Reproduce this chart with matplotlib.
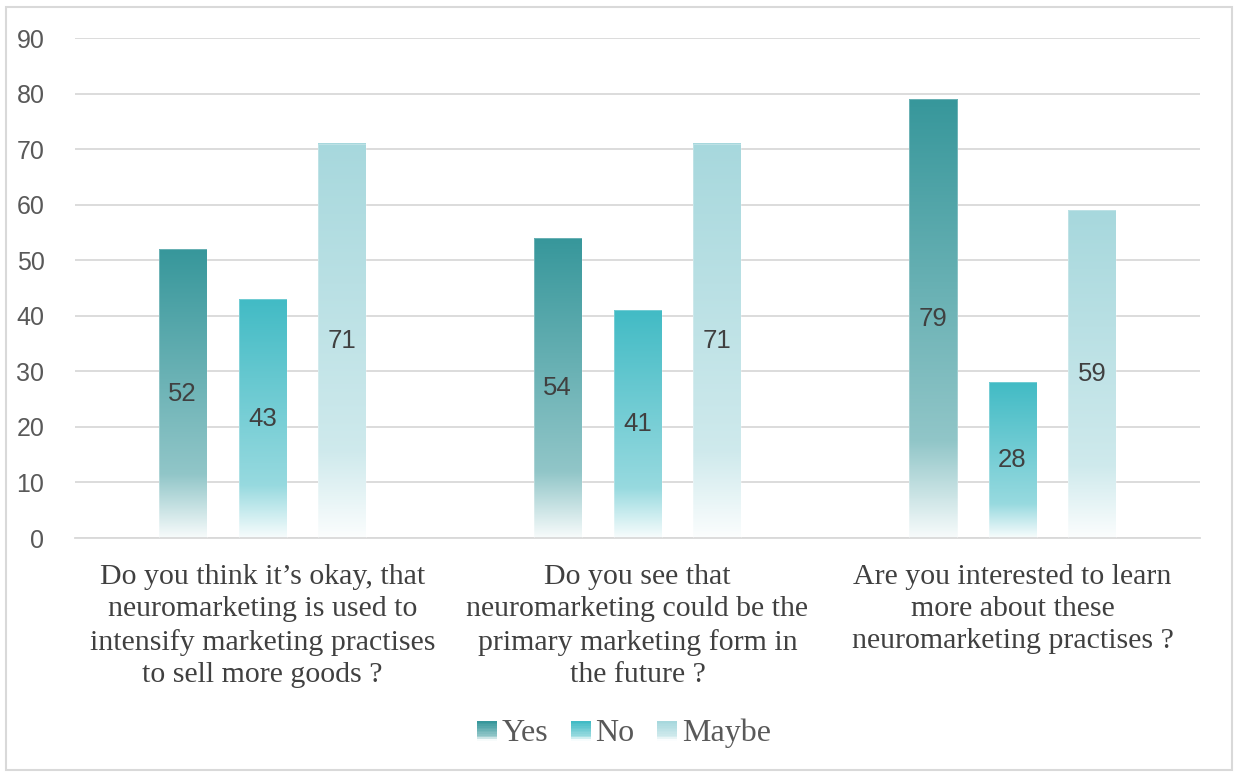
import matplotlib
matplotlib.use("Agg")
import matplotlib.pyplot as plt
import numpy as np
from matplotlib.patches import Rectangle
from matplotlib.legend_handler import HandlerBase
from matplotlib.colors import to_rgb

# Dados da pesquisa
perguntas = [
    "Do you think it\u2019s okay, that\nneuromarketing is used to\nintensify marketing practises\nto sell more goods ?",
    "Do you see that\nneuromarketing could be the\nprimary marketing form in\nthe future ?",
    "Are you interested to learn\nmore about these\nneuromarketing practises ?",
]
respostas = ["Yes", "No", "Maybe"]
sim = [52, 54, 79]
nao = [43, 41, 28]
talvez = [71, 71, 59]
cores = ["#37979b", "#42bbc5", "#a7d8dd"]


# Gradiente: cor cheia no topo, clareando ate quase branco na base
def gradiente(cor, n=256):
    c = np.array(to_rgb(cor))
    branco = np.ones(3)
    t = np.linspace(0, 1, n)  # 0 = base, 1 = topo
    meio = c * 0.55 + branco * 0.45
    fundo = c * 0.04 + branco * 0.96
    joelho = 0.22
    out = np.zeros((n, 3))
    for i, v in enumerate(t):
        if v < joelho:
            f = v / joelho
            out[i] = fundo * (1 - f) + meio * f
        else:
            f = (v - joelho) / (1 - joelho)
            out[i] = meio * (1 - f) + c * f
    return out[::-1].reshape(n, 1, 3)


class HandlerGradiente(HandlerBase):
    def __init__(self, cor):
        super().__init__()
        self.cor = cor

    def create_artists(self, legend, orig_handle, xdescent, ydescent,
                       width, height, fontsize, trans):
        img = gradiente(self.cor, 12)[:, 0, :]
        lado = width
        x0 = -xdescent
        y0 = -ydescent
        arts = []
        for k in range(12):
            r = Rectangle((x0, y0 + lado * (11 - k) / 12), lado, lado / 12,
                          facecolor=img[k], edgecolor="none", transform=trans)
            arts.append(r)
        return arts


fig = plt.figure(figsize=(12.34, 7.74), dpi=100)
ax = fig.add_axes([75 / 1234, 236 / 774, 1125 / 1234, 500 / 774])

# Moldura da figura
fig.patches.append(Rectangle((6 / 1234, 4 / 774), 1226 / 1234, 763 / 774,
                             transform=fig.transFigure, fill=False,
                             edgecolor="#d9d9d9", linewidth=1.5))

x = np.arange(len(perguntas))
largura = 0.128
passo = 0.2133
series = [sim, nao, talvez]

for j, (vals, cor) in enumerate(zip(series, cores)):
    grad = gradiente(cor)
    for i, v in enumerate(vals):
        xc = x[i] + (j - 1) * passo
        ax.imshow(grad, extent=(xc - largura / 2, xc + largura / 2, 0, v),
                  aspect="auto", interpolation="bilinear", zorder=2)
        ax.add_patch(Rectangle((xc - largura / 2, 0), largura, v, fill=False,
                               edgecolor=(1, 1, 1, 0.3), linewidth=0.6, zorder=3))
        ax.text(xc, v / 2, str(v), ha="center", va="center", fontsize=18.5,
                color="#404040", family="Liberation Sans", zorder=4)

ax.set_xlim(-0.5, 2.5)
ax.set_ylim(0, 90)
ax.set_yticks(range(0, 91, 10))
ax.set_xticks(x)
ax.set_xticklabels(perguntas, family="Liberation Serif", fontsize=21.5,
                   color="#404040", linespacing=1.3)
ax.tick_params(axis="x", length=0, pad=19)
ax.tick_params(axis="y", length=0, pad=22, labelsize=18, labelcolor="#595959")
for lbl in ax.get_yticklabels():
    lbl.set_family("Liberation Sans")

ax.grid(axis="y", color="#d9d9d9", linewidth=1.3, zorder=0)
ax.set_axisbelow(True)
for s in ["top", "right", "left"]:
    ax.spines[s].set_visible(False)
ax.spines["bottom"].set_color("#d9d9d9")
ax.spines["bottom"].set_linewidth(1.3)

# Legenda com quadrados em gradiente
handles = [Rectangle((0, 0), 1, 1) for _ in respostas]
leg = fig.legend(handles, respostas, loc="center", bbox_to_anchor=(624 / 1234, 1 - 733 / 774),
                 ncol=3, frameon=False, handlelength=0.62, handletextpad=0.15,
                 columnspacing=0.7, handler_map={h: HandlerGradiente(c) for h, c in zip(handles, cores)},
                 prop={"family": "Liberation Serif", "size": 23})
for t in leg.get_texts():
    t.set_color("#595959")

fig.savefig("out.png", dpi=100)
